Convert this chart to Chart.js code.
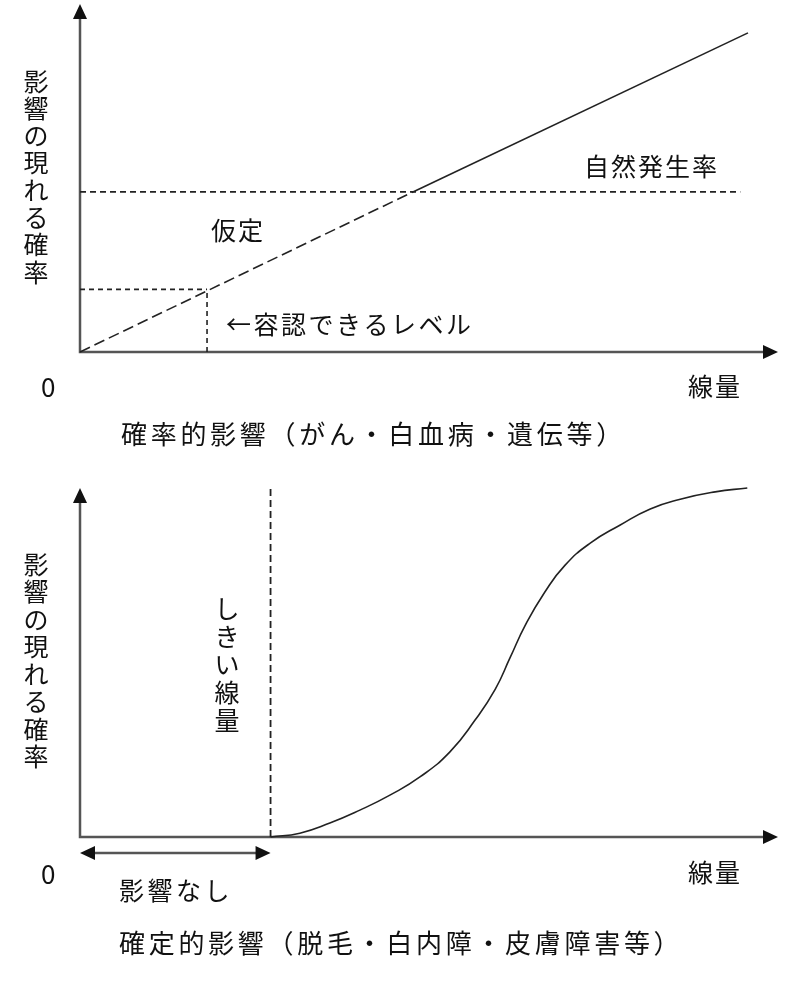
<!DOCTYPE html>
<html>
<head>
<meta charset="utf-8">
<script src="https://cdn.jsdelivr.net/npm/chart.js@4.4.1/dist/chart.umd.min.js"></script>
<style>
body { margin: 0; background: #fff; }
#box-top { position: absolute; left: 0; top: 0; }
#box-bottom { position: absolute; left: 0; top: 470px; }
</style>
</head>
<body>
<div id="box-top"><canvas id="chart-top" width="800" height="470"></canvas></div>
<div id="box-bottom"><canvas id="chart-bottom" width="800" height="534"></canvas></div>
<script>
// grafico in alto: effetti stocastici (dose 0-100, probabilita 0-100)
var doseLinear = [0, 47.7, 95.7];
var riskLinear = [0, 46.0, 91.7];
var naturalRate = 46.0;
var naturalRateEnd = 94.6;
var acceptableDose = 18.2;
var acceptableRisk = 18.0;

// grafico in basso: effetti deterministici (curva a S)
var doseCurve = [27.3, 31.5, 35.8, 40.1, 44.4, 48.7, 53.0, 56.6, 59.5, 61.6, 63.8, 66.6, 69.5, 73.1, 77.4, 81.7, 86.0, 91.0, 95.6];
var riskCurve = [0, 1.1, 4.0, 7.7, 12.0, 17.2, 24.4, 33.5, 42.4, 51.3, 60.7, 70.2, 77.9, 84.2, 89.4, 94.0, 96.8, 98.9, 100];
var thresholdDose = 27.3;

var FONT = '"Noto Sans CJK JP", "Noto Sans CJK SC", sans-serif';
var INK = '#111';

function pts(xs, ys) {
    var out = [];
    for (var i = 0; i < xs.length; i++) {
        out.push({x: xs[i], y: ys[i]});
    }
    return out;
}

// scrive carattere per carattere (anche in verticale)
function drawChars(ctx, text, x, y, step, vertical) {
    ctx.textAlign = vertical ? 'center' : 'left';
    ctx.textBaseline = 'middle';
    for (var i = 0; i < text.length; i++) {
        if (vertical) {
            ctx.fillText(text[i], x, y + i * step);
        } else {
            ctx.fillText(text[i], x + i * step, y);
        }
    }
}

function arrowHead(ctx, x, y, dir) {
    // dir: 'up', 'right', 'left'
    ctx.beginPath();
    if (dir === 'up') {
        ctx.moveTo(x, y); ctx.lineTo(x - 7, y + 15); ctx.lineTo(x + 7, y + 15);
    } else if (dir === 'right') {
        ctx.moveTo(x, y); ctx.lineTo(x - 15, y - 7); ctx.lineTo(x - 15, y + 7);
    } else {
        ctx.moveTo(x, y); ctx.lineTo(x + 15, y - 7); ctx.lineTo(x + 15, y + 7);
    }
    ctx.closePath();
    ctx.fill();
}

function drawAxes(chart) {
    var ctx = chart.ctx;
    var a = chart.chartArea;
    ctx.save();
    ctx.strokeStyle = '#555';
    ctx.lineWidth = 2.5;
    ctx.beginPath();
    ctx.moveTo(a.left, a.top + 10);
    ctx.lineTo(a.left, a.bottom);
    ctx.lineTo(a.right - 10, a.bottom);
    ctx.stroke();
    ctx.fillStyle = '#111';
    arrowHead(ctx, a.left, a.top, 'up');
    arrowHead(ctx, a.right, a.bottom, 'right');
    ctx.restore();
}

var axesPlugin = {
    id: 'frecce',
    beforeDatasetsDraw: function(chart) { drawAxes(chart); }
};

var textTopPlugin = {
    id: 'testoAlto',
    afterDraw: function(chart) {
        var ctx = chart.ctx;
        ctx.save();
        ctx.fillStyle = INK;
        ctx.font = '25px ' + FONT;
        drawChars(ctx, '影響の現れる確率', 36, 81, 27.3, true);
        drawChars(ctx, '自然発生率', 584, 166, 27, false);
        drawChars(ctx, '仮定', 211, 230, 27, false);
        drawChars(ctx, '←容認できるレベル', 226, 324, 27.5, false);
        drawChars(ctx, '線量', 688, 386, 27, false);
        ctx.font = '26px ' + FONT;
        drawChars(ctx, '0', 41, 387, 20, false);
        drawChars(ctx, '確率的影響（がん・白血病・遺伝等）', 121, 434, 29.7, false);
        ctx.restore();
    }
};

var textBottomPlugin = {
    id: 'testoBasso',
    afterDraw: function(chart) {
        var ctx = chart.ctx;
        var a = chart.chartArea;
        var xs = chart.scales.x;
        ctx.save();
        // freccia doppia "nessun effetto"
        var x0 = xs.getPixelForValue(0);
        var x1 = xs.getPixelForValue(thresholdDose);
        var yy = a.bottom + 16;
        ctx.strokeStyle = '#555';
        ctx.lineWidth = 2.5;
        ctx.beginPath();
        ctx.moveTo(x0 + 10, yy);
        ctx.lineTo(x1 - 10, yy);
        ctx.stroke();
        ctx.fillStyle = '#111';
        arrowHead(ctx, x0, yy, 'left');
        arrowHead(ctx, x1, yy, 'right');

        ctx.fillStyle = INK;
        ctx.font = '25px ' + FONT;
        drawChars(ctx, '影響の現れる確率', 36, 564 - 470, 27.5, true);
        drawChars(ctx, 'しきい線量', 227, 608 - 470, 28, true);
        drawChars(ctx, '線量', 688, 872 - 470, 27, false);
        drawChars(ctx, '影響なし', 119, 890 - 470, 28.5, false);
        ctx.font = '26px ' + FONT;
        drawChars(ctx, '0', 41, 874 - 470, 20, false);
        drawChars(ctx, '確定的影響（脱毛・白内障・皮膚障害等）', 119, 943 - 470, 29.7, false);
        ctx.restore();
    }
};

function baseOptions(pad) {
    return {
        responsive: false,
        animation: false,
        layout: { padding: pad },
        plugins: { legend: { display: false }, tooltip: { enabled: false } },
        elements: { point: { radius: 0 } },
        scales: {
            x: { type: 'linear', min: 0, max: 100, display: false },
            y: { type: 'linear', min: 0, max: 100, display: false }
        }
    };
}

function lineSet(data, dash, width) {
    return {
        data: data,
        borderColor: '#222',
        borderWidth: width || 1.6,
        borderDash: dash || [],
        fill: false,
        clip: false,
        pointRadius: 0
    };
}

new Chart(document.getElementById('chart-top').getContext('2d'), {
    type: 'scatter',
    data: {
        datasets: [
            lineSet(pts(doseLinear.slice(0, 2), riskLinear.slice(0, 2)), [11, 5]),
            lineSet(pts(doseLinear.slice(1), riskLinear.slice(1))),
            lineSet([{x: 0, y: naturalRate}, {x: naturalRateEnd, y: naturalRate}], [6, 4]),
            lineSet([{x: 0, y: acceptableRisk}, {x: acceptableDose, y: acceptableRisk}], [5, 4]),
            lineSet([{x: acceptableDose, y: 0}, {x: acceptableDose, y: acceptableRisk}], [5, 4])
        ].map(function(d) { d.showLine = true; return d; })
    },
    options: baseOptions({ left: 80, right: 22, top: 4, bottom: 118 }),
    plugins: [axesPlugin, textTopPlugin]
});

var curveSet = lineSet(pts(doseCurve, riskCurve));
curveSet.tension = 0.5;

new Chart(document.getElementById('chart-bottom').getContext('2d'), {
    type: 'scatter',
    data: {
        datasets: [
            curveSet,
            lineSet([{x: thresholdDose, y: 0}, {x: thresholdDose, y: 100}], [7, 4], 1.8)
        ].map(function(d) { d.showLine = true; return d; })
    },
    options: baseOptions({ left: 80, right: 22, top: 18, bottom: 167 }),
    plugins: [axesPlugin, textBottomPlugin]
});
</script>
</body>
</html>
